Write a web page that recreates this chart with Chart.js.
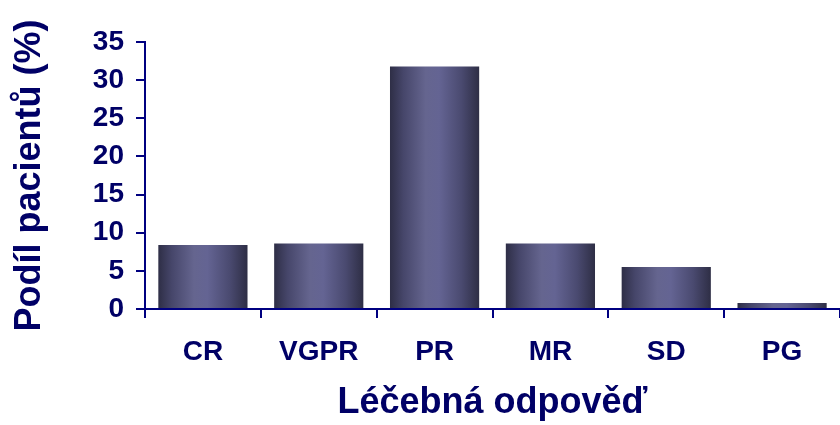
<!DOCTYPE html>
<html lang="cs">
<head>
<meta charset="utf-8">
<title>Léčebná odpověď</title>
<script src="https://cdn.jsdelivr.net/npm/chart.js@4/dist/chart.umd.min.js"></script>
<style>
  html, body { margin: 0; padding: 0; background: #fff; }
  #wrap { position: relative; width: 840px; height: 425px; }
</style>
</head>
<body>
<div id="wrap"><canvas id="chart"></canvas></div>
<script>
// ── Data ──
const CATEGORIES = ["CR", "VGPR", "PR", "MR", "SD", "PG"];
const SHARE_PCT  = [8.4, 8.6, 31.8, 8.6, 5.5, 0.8];
const Y_TICKS    = [0, 5, 10, 15, 20, 25, 30, 35];

const X_TITLE = "Léčebná odpověď";
const Y_TITLE = "Podíl pacientů (%)";

// ── Styles ──
const NAVY_TEXT = "#000066";
const NAVY_AXIS = "#000080";
const BAR_PCT   = 0.77;
const FONT      = "'Liberation Sans', Arial, sans-serif";

// horizontal shading across each bar (dark edges, light middle)
function barGradient(c) {
  const chart = c.chart;
  const xs = chart.scales.x;
  if (!chart.chartArea || !xs) return "#55557f";
  const cx = xs.getPixelForValue(c.dataIndex);
  const w  = (xs.width / CATEGORIES.length) * BAR_PCT;
  const g  = chart.ctx.createLinearGradient(cx - w / 2, 0, cx + w / 2, 0);
  g.addColorStop(0.00, "#2e2e46");
  g.addColorStop(0.15, "#46466a");
  g.addColorStop(0.40, "#65658f");
  g.addColorStop(0.55, "#646493");
  g.addColorStop(0.80, "#4a4a70");
  g.addColorStop(1.00, "#2e2e45");
  return g;
}

new Chart(document.getElementById("chart"), {
  type: "bar",
  data: {
    labels: CATEGORIES,
    datasets: [{
      data: SHARE_PCT,
      backgroundColor: barGradient,
      borderWidth: 0,
      barPercentage: BAR_PCT,
      categoryPercentage: 1,
    }],
  },
  options: {
    responsive: true,
    maintainAspectRatio: false,
    animation: false,
    layout: { padding: { top: 42, right: 0, bottom: 0, left: 0 } },
    plugins: { legend: { display: false }, tooltip: { enabled: false } },
    scales: {
      x: {
        z: 1,
        border: { display: true, color: NAVY_AXIS, width: 2 },
        grid: {
          display: true, drawOnChartArea: false, drawTicks: true,
          tickLength: 9, color: NAVY_AXIS, lineWidth: 2, offset: true,
        },
        ticks: {
          color: NAVY_TEXT, padding: 17,
          font: { family: FONT, size: 28, weight: "bold" },
        },
        title: {
          display: true, text: X_TITLE, color: NAVY_TEXT,
          padding: { top: 0, bottom: 0 },
          font: { family: FONT, size: 36, weight: "bold" },
        },
        afterFit: (scale) => { scale.height = 116; },
      },
      y: {
        min: 0, max: 35,
        afterBuildTicks: (scale) => { scale.ticks = Y_TICKS.map((v) => ({ value: v })); },
        border: { display: true, color: NAVY_AXIS, width: 2 },
        grid: {
          display: true, drawOnChartArea: false, drawTicks: true,
          tickLength: 9, color: NAVY_AXIS, lineWidth: 2,
        },
        ticks: {
          color: NAVY_TEXT, padding: 12,
          font: { family: FONT, size: 28, weight: "bold" },
        },
        title: {
          display: true, text: Y_TITLE, color: NAVY_TEXT,
          padding: { top: 8, bottom: 0 },
          font: { family: FONT, size: 36, weight: "bold" },
        },
        afterFit: (scale) => { scale.width = 145; },
      },
    },
  },
});
</script>
</body>
</html>
